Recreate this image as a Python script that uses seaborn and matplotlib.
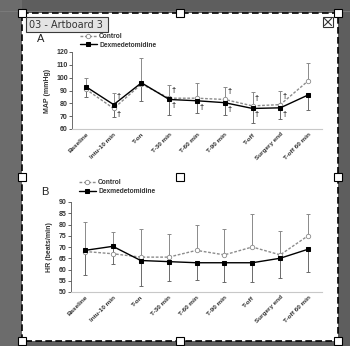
import matplotlib
matplotlib.use('Agg')
import matplotlib.pyplot as plt
import seaborn as sns
import pandas as pd
from matplotlib.patches import Rectangle

# Data
times = ["Baseline", "Intu-10 min", "T-on", "T-30 min", "T-60 min",
         "T-90 min", "T-off", "Surgery end", "T-off 60 min"]

# A: MAP (mmHg)
map_control = [91, 76, 95, 84, 84, 83, 78, 79, 97.5]
map_dex = [93, 79, 96, 83, 82, 80.5, 76, 76.5, 86.5]
map_control_sd = [9, 12, 20, 10, 12, 10, 10.5, 11, 14]
map_dex_sd = [8, 9.5, 14, 12, 9.5, 9.5, 11, 8.5, 11.5]
map_dagger_up = [0, 1, 0, 1, 0, 1, 1, 1, 0]
map_dagger_down = [0, 1, 0, 1, 1, 1, 1, 1, 0]

# B: HR (beats/min)
hr_control = [68, 67, 65.5, 65.5, 68.5, 66.5, 70, 66.5, 75]
hr_dex = [68.5, 70.3, 64, 63.5, 63, 63, 63, 65, 69]
hr_control_sd = [13, 9.7, 12.5, 10.5, 11.1, 11.7, 14.5, 10.5, 9.8]
hr_dex_sd = [10.8, 7.7, 11.5, 8.7, 7.5, 8.6, 8.6, 8.6, 10.1]

sns.set_style("white")
plt.rcParams['font.family'] = ['Liberation Sans', 'DejaVu Sans']

W, H = 350, 346
fig = plt.figure(figsize=(W / 100, H / 100), dpi=100, facecolor='#5e5e5e')


def px(x0, y0, x1, y1):
    # pixel box (top-left origin) -> figure fraction rect
    return [x0 / W, 1 - y1 / H, (x1 - x0) / W, (y1 - y0) / H]


# artboard
art = fig.add_axes([0, 0, 1, 1], zorder=0)
art.set_xlim(0, W)
art.set_ylim(H, 0)
art.axis('off')
art.add_patch(Rectangle((0, 0), 22, H, color='#6c6c6c', lw=0))
art.plot([0, W], [11, 11], color='#7a7a7a', lw=0.8)
art.add_patch(Rectangle((22, 13), 316, 328, facecolor='white',
                        edgecolor='black', lw=1.2, ls=(0, (4, 2))))


def panel(rect, ctrl, dex, ctrl_sd, dex_sd, ylim, yticks, ylabel, letter, letter_pos):
    ax = fig.add_axes(px(*rect), zorder=2)
    ax.patch.set_alpha(0)
    df = pd.DataFrame({"time": times * 2,
                       "value": ctrl + dex,
                       "group": ["Control"] * 9 + ["Dexmedetomidine"] * 9})
    x = list(range(len(times)))
    ax.errorbar(x, ctrl, yerr=[[0] * 9, ctrl_sd], fmt='none', ecolor='#8a8a8a',
                elinewidth=0.7, capsize=1.5, capthick=0.7, zorder=1)
    ax.errorbar(x, dex, yerr=[dex_sd, [0] * 9], fmt='none', ecolor='#6a6a6a',
                elinewidth=0.7, capsize=1.5, capthick=0.7, zorder=1)
    sns.lineplot(data=df, x="time", y="value", hue="group", style="group",
                 palette={"Control": "#8c8c8c", "Dexmedetomidine": "black"},
                 dashes={"Control": (2, 1.2), "Dexmedetomidine": ""},
                 markers={"Control": "o", "Dexmedetomidine": "s"},
                 markersize=3.2, linewidth=1.0, ax=ax, sort=False, zorder=3)
    for ln in ax.lines:
        if ln.get_marker() == 'o':
            ln.set_markerfacecolor('white')
            ln.set_markeredgecolor('#8c8c8c')
            ln.set_markeredgewidth(0.6)
        elif ln.get_marker() == 's':
            ln.set_markeredgecolor('black')
    ax.set_xlim(-0.5, 8.5)
    ax.set_ylim(*ylim)
    ax.set_yticks(yticks)
    ax.set_xticks(x)
    ax.set_xticklabels(times, rotation=45, ha='right', rotation_mode='anchor',
                       fontsize=4.6, fontweight='bold', color='#333333')
    ax.tick_params(axis='y', labelsize=5, length=2, width=0.5, pad=1,
                   labelcolor='#333333', left=True)
    ax.tick_params(axis='x', length=0, pad=2)
    for lab in ax.get_yticklabels():
        lab.set_fontweight('bold')
    ax.set_xlabel('')
    ax.set_ylabel(ylabel, fontsize=5, fontweight='bold', color='#333333', labelpad=4)
    for s in ['top', 'right']:
        ax.spines[s].set_visible(False)
    ax.spines['left'].set_color('#555555')
    ax.spines['left'].set_linewidth(0.6)
    ax.spines['bottom'].set_color('#c8c8c8')
    ax.spines['bottom'].set_linewidth(0.8)
    leg = ax.legend(loc='upper left', bbox_to_anchor=(0.02, 1.28), frameon=False,
                    fontsize=4.8, handlelength=2.6, labelspacing=0.25,
                    borderaxespad=0, handletextpad=0.3)
    for t in leg.get_texts():
        t.set_fontweight('bold')
        t.set_color('#333333')
    fig.text(letter_pos[0] / W, 1 - letter_pos[1] / H, letter, fontsize=8,
             ha='center', va='center', color='#222222')
    return ax


ax_a = panel((72, 52, 322, 129), map_control, map_dex, map_control_sd, map_dex_sd,
             (60, 120), range(60, 121, 10), "MAP (mmHg)", "A", (41, 39))
for i in range(len(times)):
    hi = max(map_control[i], map_dex[i])
    lo = min(map_control[i], map_dex[i])
    if map_dagger_up[i]:
        ax_a.text(i + 0.16, hi + 6, "\u2020", fontsize=5.5, fontweight='bold',
                  ha='center', va='center', color='#222222')
    if map_dagger_down[i]:
        ax_a.text(i + 0.16, lo - 5, "\u2020", fontsize=5.5, fontweight='bold',
                  ha='center', va='center', color='#222222')

ax_b = panel((71, 202, 322, 292), hr_control, hr_dex, hr_control_sd, hr_dex_sd,
             (50, 90), range(50, 91, 5), "HR (beats/min)", "B", (45, 192))

# selection overlay
ov = fig.add_axes([0, 0, 1, 1], zorder=5)
ov.set_xlim(0, W)
ov.set_ylim(H, 0)
ov.axis('off')
ov.patch.set_alpha(0)
for hx in (22, 180, 338):
    for hy in (13, 177, 341):
        ov.add_patch(Rectangle((hx - 4, hy - 4), 8, 8, facecolor='white',
                               edgecolor='black', lw=0.8))
ov.add_patch(Rectangle((26, 17), 82, 15, facecolor='#e4e4e4',
                       edgecolor='#3a3a3a', lw=0.8))
ov.text(29, 24.8, "03 - Artboard 3", fontsize=7, family='DejaVu Sans',
        color='#333333', va='center', ha='left')
ov.add_patch(Rectangle((323, 17), 10, 10, facecolor='white',
                       edgecolor='#333333', lw=0.8))
ov.plot([324.5, 331.5], [18.5, 25.5], color='#333333', lw=0.8)
ov.plot([324.5, 331.5], [25.5, 18.5], color='#333333', lw=0.8)

fig.savefig("out.png", dpi=100, facecolor=fig.get_facecolor())
